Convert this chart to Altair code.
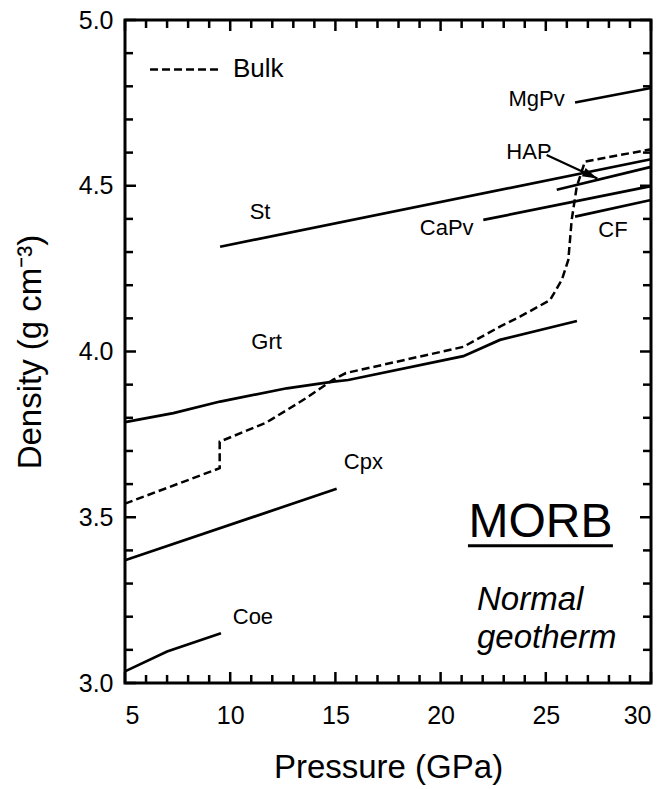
import altair as alt
import pandas as pd

FONT = "Liberation Sans"

# ---- curve data (Pressure GPa, Density g/cm3) ----
bulk_p = [5.0, 9.5, 9.5, 11.7, 13.5, 14.9, 15.5, 21.08, 22.82, 23.77, 25.2, 25.76, 26.07, 26.23, 26.47, 26.86, 30.0]
bulk_d = [3.541, 3.648, 3.728, 3.785, 3.855, 3.915, 3.935, 4.014, 4.075, 4.105, 4.155, 4.216, 4.276, 4.397, 4.497, 4.573, 4.610]

grt_p = [5.0, 7.3, 9.52, 12.69, 14.9, 15.61, 21.08, 22.82, 26.48]
grt_d = [3.787, 3.814, 3.849, 3.889, 3.909, 3.914, 3.986, 4.035, 4.092]

st_p, st_d = [9.52, 30.0], [4.316, 4.580]
mgpv_p, mgpv_d = [26.39, 30.0], [4.751, 4.795]
hap_p, hap_d = [25.52, 30.0], [4.488, 4.557]
capv_p, capv_d = [22.03, 30.0], [4.397, 4.499]
cf_p, cf_d = [26.39, 30.0], [4.407, 4.457]
cpx_p, cpx_d = [5.0, 15.06], [3.370, 3.586]
coe_p, coe_d = [5.0, 7.0, 9.56], [3.035, 3.095, 3.150]

# ---- labels ----
phase_labels = ["St", "MgPv", "HAP", "CaPv", "CF", "Grt", "Cpx", "Coe"]
phase_lab_p = [11.42, 24.56, 24.2, 20.29, 28.19, 11.73, 16.33, 11.08]
phase_lab_d = [4.422, 4.762, 4.603, 4.373, 4.367, 4.030, 3.666, 3.200]

legend_text, legend_text_p, legend_text_d = ["Bulk"], [10.13], [4.851]
legend_line_p, legend_line_p2, legend_line_d = [6.19], [9.61], [4.851]

morb_text, morb_p, morb_d = ["MORB"], [24.75], [3.441]
morb_ul_p, morb_ul_p2, morb_ul_d = [21.30], [28.19], [3.414]
geo_text = ["Normal", "geotherm"]
geo_p = [21.73, 21.73]
geo_d = [3.220, 3.105]

arrow_p, arrow_p2 = [25.04], [27.45]
arrow_d, arrow_d2 = [4.593], [4.522]

# ---- ticks ----
x_major = [5, 10, 15, 20, 25, 30]
x_minor = [v for v in range(5, 31) if v % 5 != 0]
y_major = [3.0, 3.5, 4.0, 4.5, 5.0]
y_minor = [round(3.0 + 0.1 * i, 1) for i in range(21) if i % 5 != 0]

W, H = 526, 663
XMIN, XMAX, YMIN, YMAX = 5.0, 30.0, 3.0, 5.0
PX_X = (XMAX - XMIN) / W   # data units per pixel
PX_Y = (YMAX - YMIN) / H
MAJOR_LEN, MINOR_LEN = 11, 8


def line_df(name, ps, ds):
    return pd.DataFrame({"series": name, "P": ps, "D": ds, "order": list(range(len(ps)))})


solid = pd.concat([
    line_df("Grt", grt_p, grt_d),
    line_df("St", st_p, st_d),
    line_df("MgPv", mgpv_p, mgpv_d),
    line_df("HAP", hap_p, hap_d),
    line_df("CaPv", capv_p, capv_d),
    line_df("CF", cf_p, cf_d),
    line_df("Cpx", cpx_p, cpx_d),
    line_df("Coe", coe_p, coe_d),
], ignore_index=True)
bulk = line_df("Bulk", bulk_p, bulk_d)

xs = alt.Scale(domain=[XMIN, XMAX], nice=False, zero=False)
ys = alt.Scale(domain=[YMIN, YMAX], nice=False, zero=False)
X = alt.X("P:Q", scale=xs, axis=alt.Axis(values=x_major, format="d", title="Pressure (GPa)",
                                          labelPadding=20, titleY=94, titleBaseline="alphabetic"))
Y = alt.Y("D:Q", scale=ys, axis=alt.Axis(values=y_major, format=".1f", title="Density (g cm⁻³)",
                                          labelPadding=12, titleX=-85, titleBaseline="alphabetic"))

solid_layer = alt.Chart(solid).mark_line(color="black", strokeWidth=2.7).encode(
    x=X, y=Y, detail="series:N", order="order:Q")
bulk_layer = alt.Chart(bulk).mark_line(color="black", strokeWidth=2.5, strokeDash=[8, 4]).encode(
    x=X, y=Y, order="order:Q")

leg_line = alt.Chart(pd.DataFrame({"P": legend_line_p, "P2": legend_line_p2, "D": legend_line_d})).mark_rule(
    color="black", strokeWidth=2.5, strokeDash=[8, 4]).encode(x=X, x2="P2:Q", y=Y)
leg_text = alt.Chart(pd.DataFrame({"t": legend_text, "P": legend_text_p, "D": legend_text_d})).mark_text(
    font=FONT, fontSize=26, align="left", baseline="middle", color="black").encode(x=X, y=Y, text="t:N")

phase_text = alt.Chart(pd.DataFrame({"t": phase_labels, "P": phase_lab_p, "D": phase_lab_d})).mark_text(
    font=FONT, fontSize=22, align="center", baseline="middle", color="black").encode(x=X, y=Y, text="t:N")

morb = alt.Chart(pd.DataFrame({"t": morb_text, "P": morb_p, "D": morb_d})).mark_text(
    font=FONT, fontSize=48, align="center", baseline="alphabetic", color="black").encode(x=X, y=Y, text="t:N")
morb_ul = alt.Chart(pd.DataFrame({"P": morb_ul_p, "P2": morb_ul_p2, "D": morb_ul_d})).mark_rule(
    color="black", strokeWidth=2.8).encode(x=X, x2="P2:Q", y=Y)
geo = alt.Chart(pd.DataFrame({"t": geo_text, "P": geo_p, "D": geo_d})).mark_text(
    font=FONT, fontSize=33, fontStyle="italic", align="left", baseline="alphabetic", color="black").encode(
    x=X, y=Y, text="t:N")

arrow_df = pd.DataFrame({"P": arrow_p, "P2": arrow_p2, "D": arrow_d, "D2": arrow_d2})
arrow_line = alt.Chart(arrow_df).mark_rule(color="black", strokeWidth=2.2).encode(
    x=X, x2="P2:Q", y=Y, y2="D2:Q")
arrow_head = alt.Chart(pd.DataFrame({"P": arrow_p2, "D": arrow_d2})).mark_point(
    shape="M0,0L-2,-0.6L-2,0.6Z", filled=True, color="black", opacity=1, size=225, angle=25,
    strokeWidth=0).encode(x=X, y=Y)

# tick marks (inward, all four sides); lengths given in pixels, converted to data units
tick_rows = []
for vals, L in [(x_major, MAJOR_LEN), (x_minor, MINOR_LEN)]:
    for v in vals:
        tick_rows.append({"P": float(v), "P2": float(v), "D": YMIN, "D2": YMIN + L * PX_Y})
        tick_rows.append({"P": float(v), "P2": float(v), "D": YMAX, "D2": YMAX - L * PX_Y})
for vals, L in [(y_major, MAJOR_LEN), (y_minor, MINOR_LEN)]:
    for v in vals:
        tick_rows.append({"P": XMIN, "P2": XMIN + L * PX_X, "D": float(v), "D2": float(v)})
        tick_rows.append({"P": XMAX, "P2": XMAX - L * PX_X, "D": float(v), "D2": float(v)})
ticks_layer = alt.Chart(pd.DataFrame(tick_rows)).mark_rule(color="black", strokeWidth=2.5).encode(
    x=X, x2="P2:Q", y=Y, y2="D2:Q")

chart = alt.layer(
    ticks_layer, solid_layer, bulk_layer, leg_line, leg_text, phase_text, morb, morb_ul, geo,
    arrow_line, arrow_head
).properties(
    width=W, height=H,
    padding={"left": 125, "top": 20, "right": 18, "bottom": 106},
    autosize=alt.AutoSizeParams(type="none"),
    background="white",
).configure_view(
    stroke="black", strokeWidth=3
).configure_axis(
    labelFont=FONT, labelFontSize=25, labelColor="black",
    titleFont=FONT, titleFontSize=33, titleFontWeight="normal", titleColor="black",
    ticks=False, tickSize=0, domain=False, grid=False,
)

chart.save("out.html", embed_options={"renderer": "svg", "actions": False})
